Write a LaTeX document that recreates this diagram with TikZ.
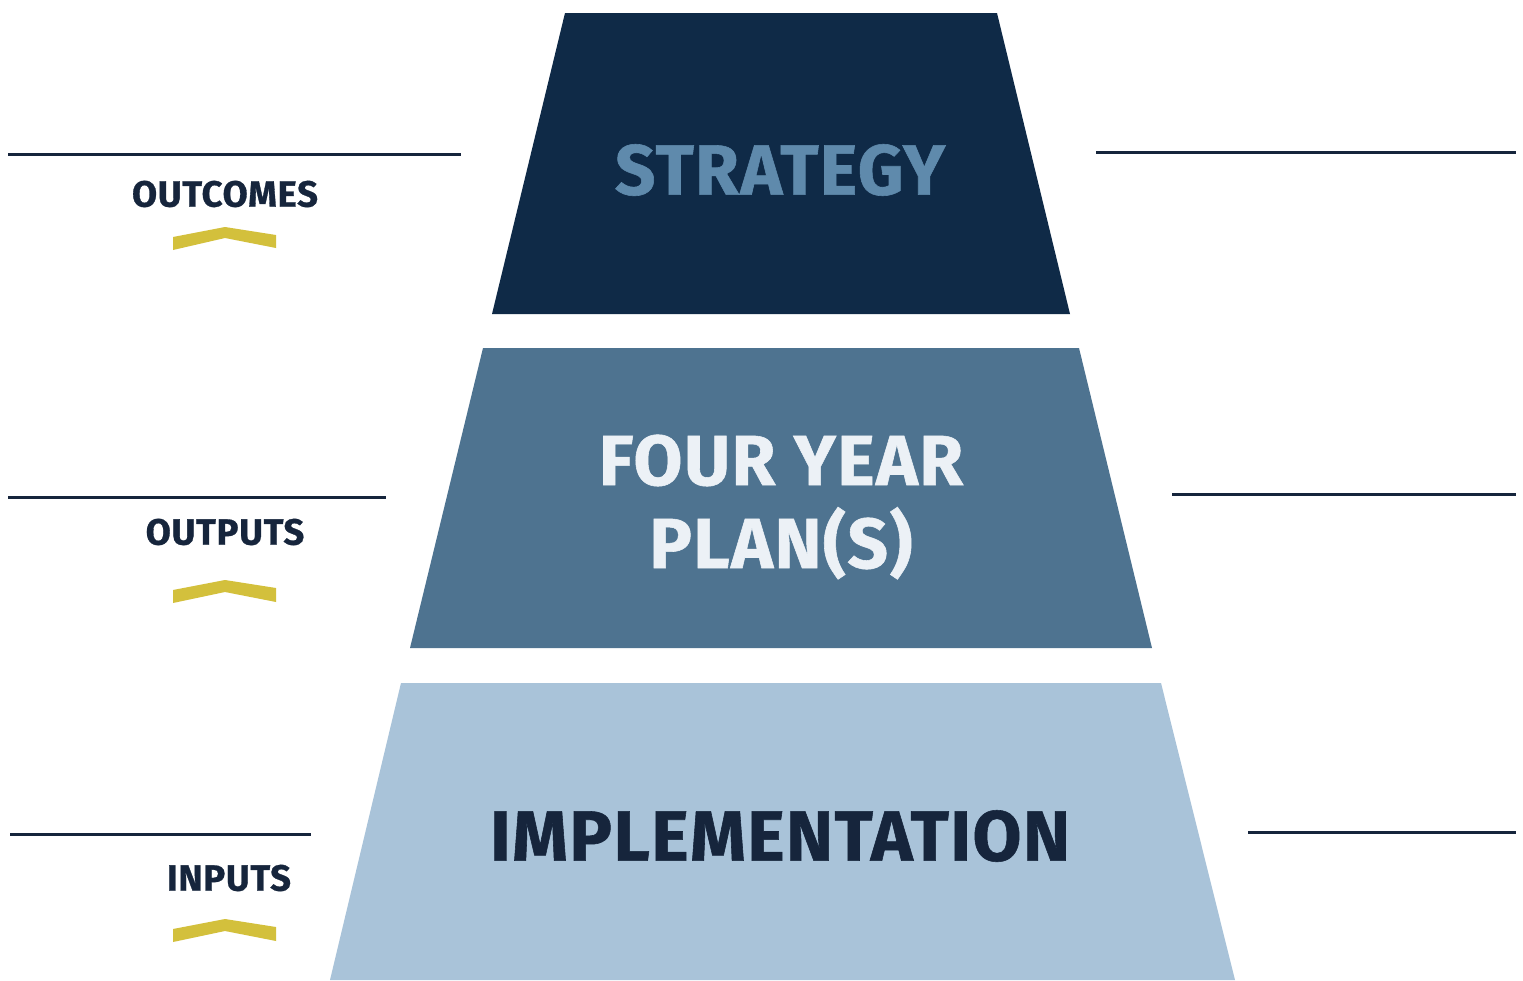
\documentclass[tikz,border=0pt]{standalone}
\usepackage{fontspec}
\newfontfamily\hf{Fira Sans}[BoldFeatures={FakeBold=0.8},LetterSpace=2]
\definecolor{tdark}{HTML}{0F2A47}
\definecolor{tmid}{HTML}{4E7390}
\definecolor{tlight}{HTML}{A9C3D9}
\definecolor{navy}{HTML}{16253C}
\definecolor{stxt}{HTML}{5F8AAC}
\definecolor{ptxt}{HTML}{ECF1F6}
\definecolor{chev}{HTML}{D3C03C}
\begin{document}
\begin{tikzpicture}[x=1pt,y=-1pt,
  guide/.style={draw=navy,line width=3pt},
  lab/.style={font=\hf\bfseries\fontsize{36.5}{40}\selectfont,text=navy,inner sep=0pt},
  big/.style={font=\hf\bfseries\fontsize{71}{84}\selectfont,inner sep=0pt,align=center},
  chevron/.style={fill=chev}]
\useasboundingbox (0,0) rectangle (1523,980);
\fill[white] (0,0) rectangle (1523,980);
% trapezoids
\fill[tdark] (565,13) -- (997,13) -- (1070,314) -- (492,314) -- cycle;
\fill[tmid] (483,348) -- (1079,348) -- (1152,648) -- (410,648) -- cycle;
\fill[tlight] (401,683) -- (1161,683) -- (1235,980) -- (330,980) -- cycle;
% guide lines
\draw[guide] (8,154) -- (461,154);
\draw[guide] (1096,152) -- (1516,152);
\draw[guide] (8,497) -- (386,497);
\draw[guide] (1172,494) -- (1516,494);
\draw[guide] (10,834) -- (311,834);
\draw[guide] (1248,832) -- (1516,832);
% main texts
\node[big,text=stxt] (strategy) at (780,170) {STRATEGY};
\node[big,text=ptxt] (plan) at (781,507) {FOUR YEAR\\[-1pt]PLAN(S)};
\node[big,text=navy] (impl) at (780,836) {IMPLEMENTATION};
% side labels
\node[lab] (outcomes) at (225,194) {OUTCOMES};
\node[lab] (outputs) at (225,532) {OUTPUTS};
\node[lab] (inputs) at (229,878) {INPUTS};
% chevrons
\fill[chevron] (173,237) -- (225,227) -- (276,235) -- (276,248) -- (225,238) -- (173,250) -- cycle;
\fill[chevron] (173,590) -- (225,580) -- (276,588) -- (276,602) -- (225,592) -- (173,603) -- cycle;
\fill[chevron] (173,929) -- (225,919) -- (276,927) -- (276,941) -- (225,931) -- (173,942) -- cycle;
\end{tikzpicture}
\end{document}
